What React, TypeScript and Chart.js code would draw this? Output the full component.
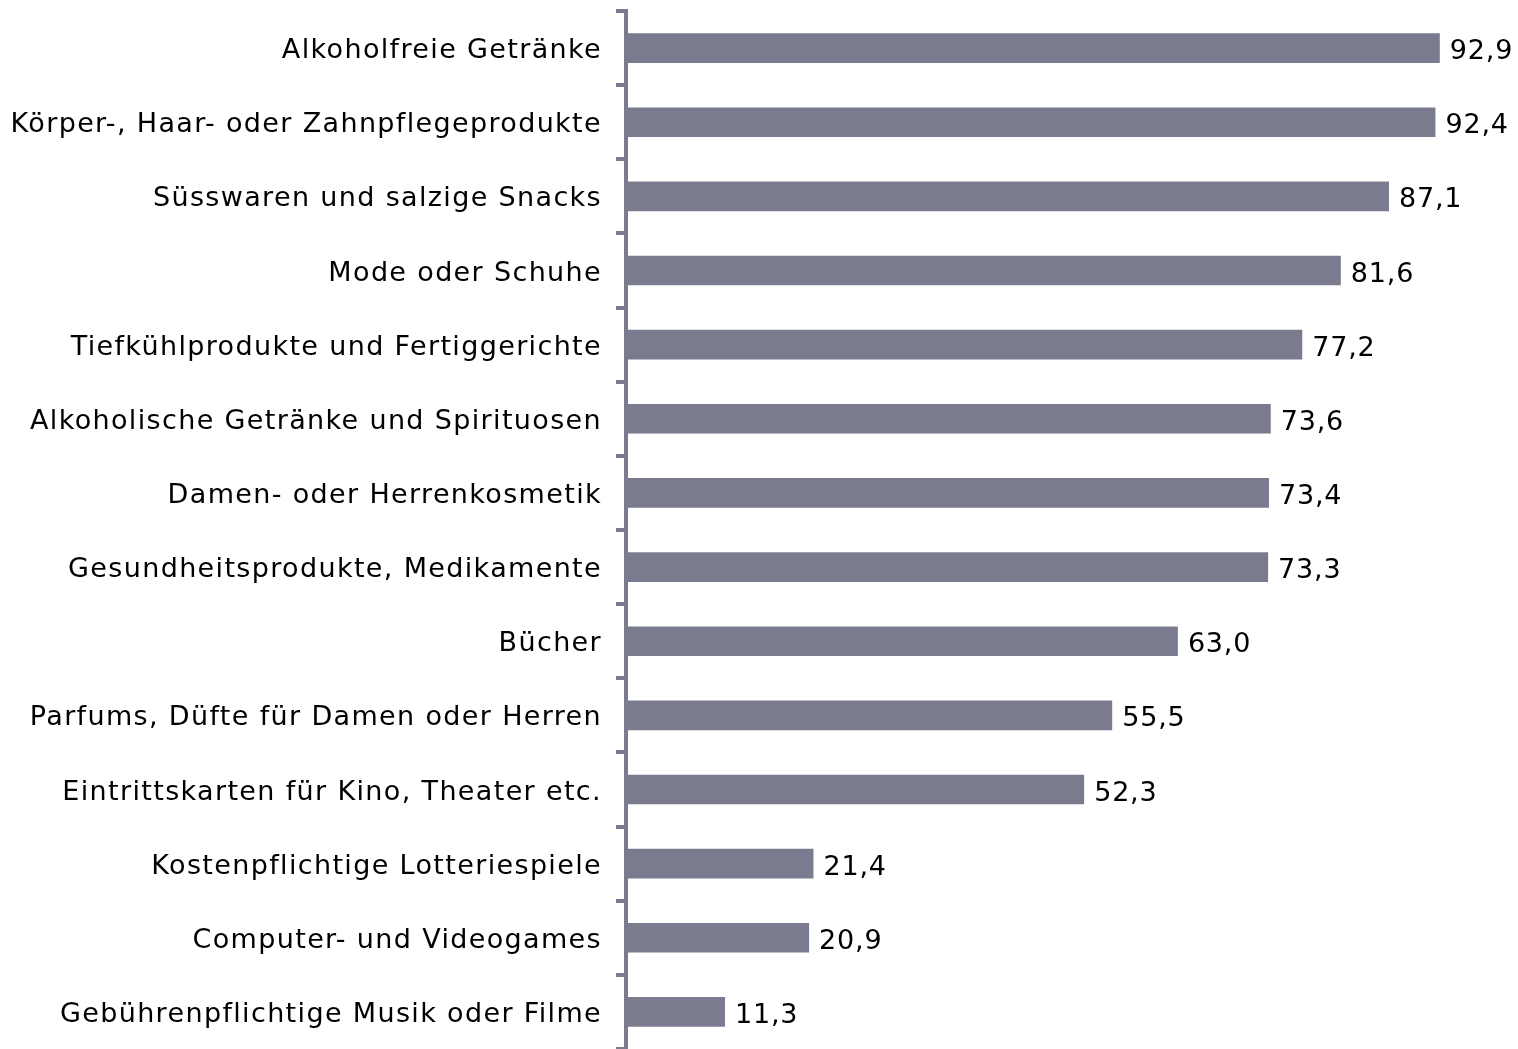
import React, { useEffect, useRef } from "react";
import { Chart, registerables } from "chart.js";

Chart.register(...registerables);

const categories: string[] = [
  "Alkoholfreie Getränke",
  "Körper-, Haar- oder Zahnpflegeprodukte",
  "Süsswaren und salzige Snacks",
  "Mode oder Schuhe",
  "Tiefkühlprodukte und Fertiggerichte",
  "Alkoholische Getränke und Spirituosen",
  "Damen- oder Herrenkosmetik",
  "Gesundheitsprodukte, Medikamente",
  "Bücher",
  "Parfums, Düfte für Damen oder Herren",
  "Eintrittskarten für Kino, Theater etc.",
  "Kostenpflichtige Lotteriespiele",
  "Computer- und Videogames",
  "Gebührenpflichtige Musik oder Filme",
];

const values: number[] = [92.9, 92.4, 87.1, 81.6, 77.2, 73.6, 73.4, 73.3, 63.0, 55.5, 52.3, 21.4, 20.9, 11.3];

const BAR_COLOR = "#7b7b90";
const FONT = "'DejaVu Sans', Verdana, sans-serif";
const LETTER_SPACING = "1.35px";

const valueLabels = {
  id: "valueLabels",
  afterDatasetsDraw(chart: any) {
    const ctx = chart.ctx;
    const meta = chart.getDatasetMeta(0);
    ctx.save();
    ctx.font = `27px ${FONT}`;
    (ctx as any).letterSpacing = "0.8px";
    ctx.fillStyle = "#000";
    ctx.textAlign = "left";
    ctx.textBaseline = "middle";
    meta.data.forEach((el: any, i: number) => {
      const txt = values[i].toFixed(1).replace(".", ",");
      ctx.fillText(txt, el.x + 10, el.y + 4);
    });
    ctx.restore();
  },
};

const spacingPlugin = {
  id: "spacing",
  beforeDraw(chart: any) {
    (chart.ctx as any).letterSpacing = LETTER_SPACING;
  },
};

export default function App() {
  const ref = useRef<HTMLCanvasElement | null>(null);
  useEffect(() => {
    if (!ref.current) return;
    const chart = new Chart(ref.current, {
      type: "bar",
      data: {
        labels: categories,
        datasets: [
          {
            data: values,
            backgroundColor: BAR_COLOR,
            categoryPercentage: 1,
            barPercentage: 0.4,
          },
        ],
      },
      options: {
        indexAxis: "y",
        responsive: false,
        animation: false,
        layout: { padding: { top: 11, bottom: 0, right: 16, left: 0 } },
        plugins: { legend: { display: false }, tooltip: { enabled: false } },
        scales: {
          x: { display: false, min: 0, max: 100 },
          y: {
            afterFit(scale: any) {
              scale.width = 626;
              scale.paddingTop = 0;
              scale.paddingBottom = 0;
            },
            border: { display: true, color: BAR_COLOR, width: 4 },
            grid: {
              drawOnChartArea: false,
              drawTicks: true,
              tickLength: 10,
              color: BAR_COLOR,
              lineWidth: 4,
            },
            ticks: {
              color: "#000",
              padding: 14,
              labelOffset: 3,
              font: { family: FONT, size: 27 },
            },
          },
        },
      },
      plugins: [spacingPlugin, valueLabels],
    });
    return () => chart.destroy();
  }, []);
  return (
    <canvas
      ref={ref}
      width={1518}
      height={1049}
      style={{ position: "absolute", left: 0, top: 0, display: "block" }}
    />
  );
}
